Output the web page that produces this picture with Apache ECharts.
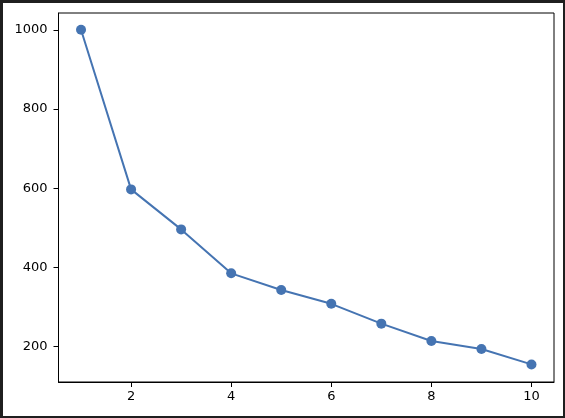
<!DOCTYPE html>
<html>
<head>
<meta charset="utf-8">
<script src="https://cdn.jsdelivr.net/npm/echarts@6/dist/echarts.min.js"></script>
<style>
html,body{margin:0;padding:0;background:#1f1f1f;width:565px;height:418px;overflow:hidden;}
#c{position:absolute;left:3px;top:3px;width:560px;height:413px;background:#fff;}
</style>
</head>
<body>
<div id="c"></div>
<script>
var xValues = [1, 2, 3, 4, 5, 6, 7, 8, 9, 10];
var yValues = [1000, 597, 496, 385, 343, 308, 258, 214, 194, 155];
var xTicks = [2, 4, 6, 8, 10];
var yTicks = [200, 400, 600, 800, 1000];

var chart = echarts.init(document.getElementById('c'), null, {renderer: 'canvas'});
var font = '"DejaVu Sans", sans-serif';
chart.setOption({
  animation: false,
  backgroundColor: '#ffffff',
  grid: {
    left: 55.5, right: 9, top: 10, bottom: 34,
    show: true, borderColor: '#000', borderWidth: 1, backgroundColor: 'transparent'
  },
  xAxis: {
    type: 'value', min: 0.55, max: 10.45,
    splitLine: {show: false},
    axisLine: {show: true, onZero: false, lineStyle: {color: '#000', width: 1}},
    axisTick: {show: true, length: 5, lineStyle: {color: '#000'}, customValues: xTicks},
    axisLabel: {color: '#000', fontFamily: font, fontSize: 13, margin: 8, customValues: xTicks,
      formatter: function (v) { return String(v); }}
  },
  yAxis: {
    type: 'value', min: 110.6, max: 1042.4,
    splitLine: {show: false},
    axisLine: {show: true, onZero: false, lineStyle: {color: '#000', width: 1}},
    axisTick: {show: true, length: 5, lineStyle: {color: '#000'}, customValues: yTicks},
    axisLabel: {color: '#000', fontFamily: font, fontSize: 13, margin: 11, customValues: yTicks,
      formatter: function (v) { return String(v); }}
  },
  series: [{
    type: 'line',
    data: xValues.map(function (x, i) { return [x, yValues[i]]; }),
    symbol: 'circle', symbolSize: 10,
    itemStyle: {color: '#4574b2'},
    lineStyle: {color: '#4574b2', width: 2},
    emphasis: {disabled: true}
  }]
});
</script>
</body>
</html>
